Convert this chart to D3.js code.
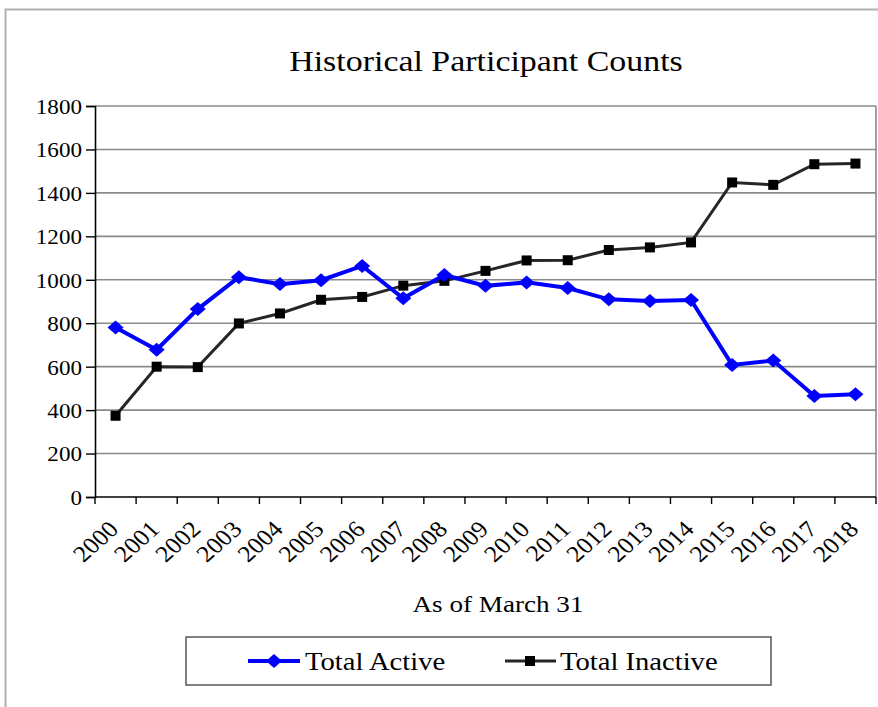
<!DOCTYPE html>
<html>
<head>
<meta charset="utf-8">
<script src="https://cdn.jsdelivr.net/npm/d3@7"></script>
<style>
  body{margin:0;background:#fff;}
  svg text{font-family:"Liberation Serif","Times New Roman",serif !important;fill:#000;}
</style>
</head>
<body>
<svg id="chart" width="878" height="707"></svg>
<script>
var years = ["2000","2001","2002","2003","2004","2005","2006","2007","2008","2009",
             "2010","2011","2012","2013","2014","2015","2016","2017","2018"];
var totalActive = [780,678,865,1012,980,998,1064,915,1022,972,988,962,910,902,907,608,628,465,473];
var totalInactive = [374,600,598,799,845,908,921,973,995,1041,1089,1090,1137,1149,1172,1448,1437,1532,1535];
var yTicks = [0,200,400,600,800,1000,1200,1400,1600,1800];

var svg = d3.select("#chart");
var margin = {left:95,top:106};
var plotRight = 876, plotBottom = 497;

// the source picture is a bit wider than tall, so text gets stretched sideways
function stretch(sel,k){
  sel.each(function(){
    var w = this.getComputedTextLength();
    d3.select(this).attr("textLength",w*k).attr("lengthAdjust","spacingAndGlyphs");
  });
}

// outer chart frame
svg.append("path")
  .attr("d","M5.5,720 V9.5 H890")
  .attr("fill","none").attr("stroke","#b0b0b0").attr("stroke-width",2);

var x = d3.scaleBand().domain(years).range([margin.left,plotRight]);
var y = d3.scaleLinear().domain([0,1800]).range([plotBottom,margin.top]);

// gridlines
svg.append("g").selectAll("line").data(yTicks.filter(function(d){return d>0})).enter().append("line")
  .attr("x1",margin.left).attr("x2",plotRight)
  .attr("y1",function(d){return y(d)}).attr("y2",function(d){return y(d)})
  .attr("stroke","#8a8a8a").attr("stroke-width",1.6);

svg.append("line").attr("x1",plotRight).attr("x2",plotRight).attr("y1",y(1800)).attr("y2",y(0))
  .attr("stroke","#8a8a8a").attr("stroke-width",1.6);

// y axis
var yAxis = svg.append("g").attr("transform","translate("+margin.left+",0)")
  .call(d3.axisLeft(y).tickValues(yTicks).tickFormat(d3.format("d")).tickSize(9).tickPadding(4));
yAxis.attr("font-family",null);
yAxis.select(".domain").attr("stroke-width",1.6);
yAxis.selectAll(".tick line").attr("stroke-width",1.4);
yAxis.selectAll("text").style("font-size","21px").attr("dy","0.35em").call(stretch,1.1);

// x axis, ticks sit on band edges
var xAxis = svg.append("g").attr("transform","translate(0,"+y(0)+")");
xAxis.append("line").attr("x1",margin.left).attr("x2",plotRight).attr("stroke","#000").attr("stroke-width",1.6);
xAxis.selectAll(".tk").data(years.concat(["end"])).enter().append("line")
  .attr("x1",function(d,i){return i<years.length?x(d):plotRight})
  .attr("x2",function(d,i){return i<years.length?x(d):plotRight})
  .attr("y1",0).attr("y2",7).attr("stroke","#000").attr("stroke-width",1.4);
xAxis.selectAll(".lbl").data(years).enter().append("text")
  .attr("transform",function(d){return "translate("+(x(d)+x.bandwidth()/2-2)+",28) scale(1.12,1) rotate(-45)"})
  .attr("text-anchor","end").attr("dy","0.35em")
  .style("font-size","23px").text(function(d){return d});

var cx = function(d,i){return x(years[i])+x.bandwidth()/2};
var line = d3.line().x(cx).y(function(d){return y(d)});

// inactive
svg.append("path").datum(totalInactive).attr("d",line)
  .attr("fill","none").attr("stroke","#262626").attr("stroke-width",3);
svg.append("g").selectAll("rect").data(totalInactive).enter().append("rect")
  .attr("x",function(d,i){return cx(d,i)-5}).attr("y",function(d){return y(d)-5})
  .attr("width",10).attr("height",10).attr("fill","#000");

// active
svg.append("path").datum(totalActive).attr("d",line)
  .attr("fill","none").attr("stroke","#0000ff").attr("stroke-width",4);
svg.append("g").selectAll("path").data(totalActive).enter().append("path")
  .attr("d",function(d,i){var px=cx(d,i),py=y(d);return "M"+px+","+(py-7)+"L"+(px+8)+","+py+"L"+px+","+(py+7)+"L"+(px-8)+","+py+"Z"})
  .attr("fill","#0000ff");

// titles
svg.append("text").attr("x",486).attr("y",71).attr("text-anchor","middle")
  .style("font-size","30px").text("Historical Participant Counts").call(stretch,1.13);
svg.append("text").attr("x",498).attr("y",612).attr("text-anchor","middle")
  .style("font-size","24px").text("As of March 31").call(stretch,1.13);

// legend
var leg = svg.append("g");
leg.append("rect").attr("x",186).attr("y",637).attr("width",585).attr("height",48)
  .attr("fill","#fff").attr("stroke","#555").attr("stroke-width",1.5);
leg.append("line").attr("x1",248).attr("x2",300).attr("y1",661).attr("y2",661)
  .attr("stroke","#0000ff").attr("stroke-width",4);
leg.append("path").attr("d","M274,654L282,661L274,668L266,661Z").attr("fill","#0000ff");
leg.append("text").attr("x",305).attr("y",661).attr("dy","0.35em").style("font-size","26px")
  .text("Total Active").call(stretch,1.1);
leg.append("line").attr("x1",505).attr("x2",556).attr("y1",661).attr("y2",661)
  .attr("stroke","#262626").attr("stroke-width",3);
leg.append("rect").attr("x",525).attr("y",656).attr("width",10).attr("height",10).attr("fill","#000");
leg.append("text").attr("x",560).attr("y",661).attr("dy","0.35em").style("font-size","26px")
  .text("Total Inactive").call(stretch,1.1);
</script>
</body>
</html>
